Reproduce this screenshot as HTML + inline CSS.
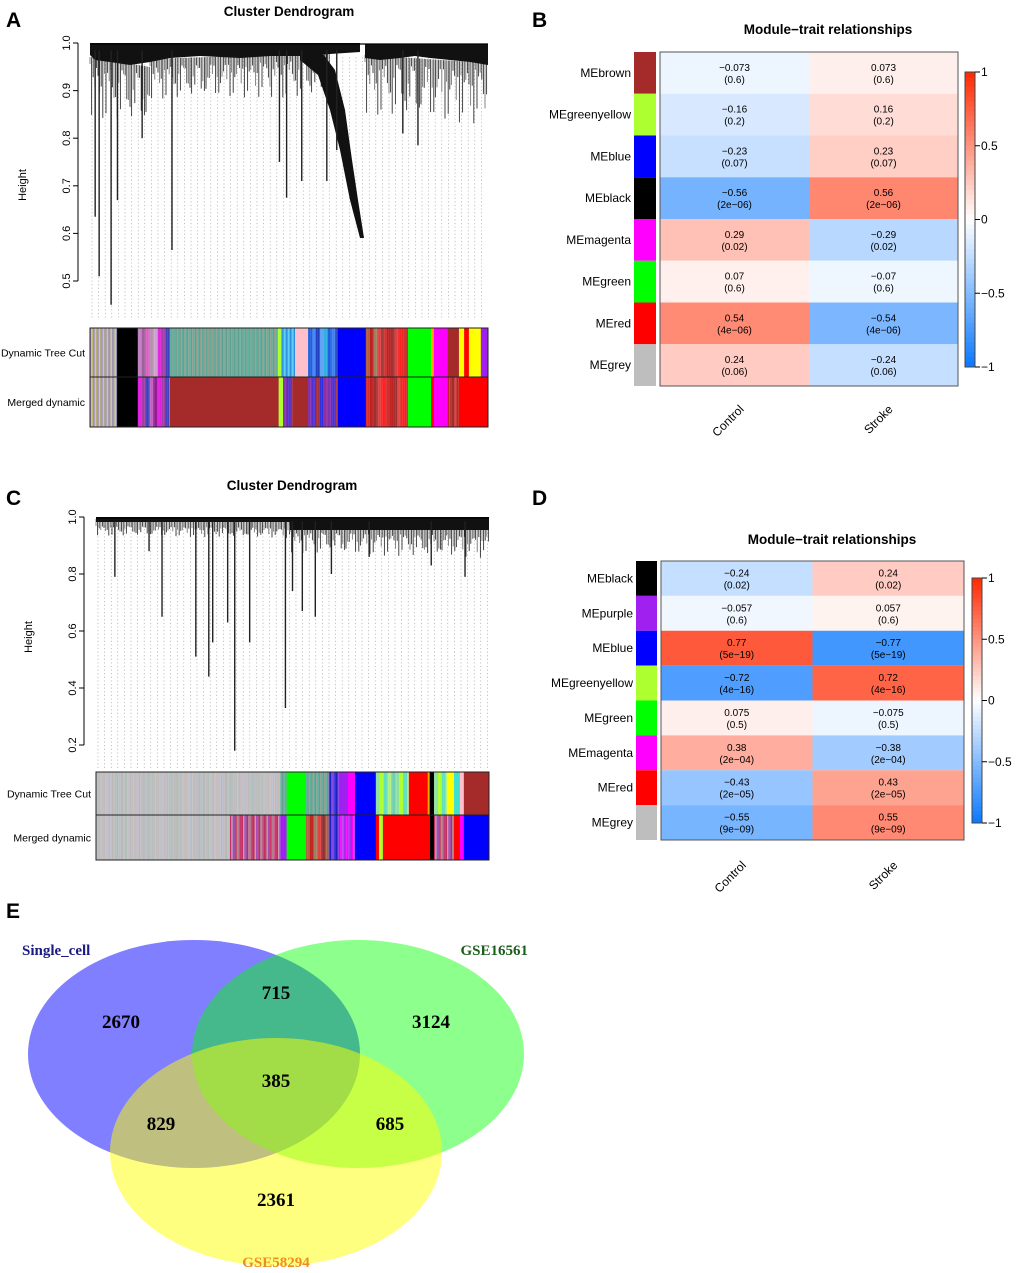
<!DOCTYPE html>
<html><head><meta charset="utf-8"><style>
body{margin:0;background:#fff;}
svg{display:block;font-family:"Liberation Sans",Arial,sans-serif;}
</style></head><body>
<svg id="fig" width="1020" height="1273" viewBox="0 0 1020 1273" xmlns="http://www.w3.org/2000/svg">
<g font-weight="bold" font-size="21">
<text x="6" y="27">A</text>
<text x="532" y="27">B</text>
<text x="6" y="505">C</text>
<text x="532" y="505">D</text>
<text x="6" y="918">E</text>
</g>
<text x="289" y="16" font-size="13.5" font-weight="bold" text-anchor="middle">Cluster Dendrogram</text>
<text x="292" y="490" font-size="13.5" font-weight="bold" text-anchor="middle">Cluster Dendrogram</text>
<text x="828" y="34" font-size="13.5" font-weight="bold" text-anchor="middle">Module−trait relationships</text>
<text x="832" y="544" font-size="13.5" font-weight="bold" text-anchor="middle">Module−trait relationships</text>
<g id="gA"></g><g id="gC"></g><g id="gB"></g><g id="gD"></g>
<g id="venn">
<ellipse cx="194" cy="1054" rx="166" ry="114" fill="rgb(0,0,255)" fill-opacity="0.5"/>
<ellipse cx="358" cy="1054" rx="166" ry="114" fill="rgb(0,255,0)" fill-opacity="0.45"/>
<ellipse cx="276" cy="1152" rx="166" ry="114" fill="rgb(255,255,0)" fill-opacity="0.5"/>
<g font-family="Liberation Serif,serif" font-weight="bold">
<text x="22" y="955" font-size="15" fill="#1a1a80">Single_cell</text>
<text x="528" y="955" font-size="15" fill="#1a5e1a" text-anchor="end">GSE16561</text>
<text x="276" y="1267" font-size="15" fill="#f08c1e" text-anchor="middle">GSE58294</text>
<g font-size="19" text-anchor="middle">
<text x="121" y="1028">2670</text>
<text x="276" y="999">715</text>
<text x="431" y="1028">3124</text>
<text x="276" y="1087">385</text>
<text x="161" y="1130">829</text>
<text x="390" y="1130">685</text>
<text x="276" y="1206">2361</text>
</g></g></g>
</svg>
<script>
// ---- Data ----
const traitsCols = ["Control","Stroke"];
const modulesB = ["MEbrown","MEgreenyellow","MEblue","MEblack","MEmagenta","MEgreen","MEred","MEgrey"];
const swatchB = ["#a52a2a","#adff2f","#0000ff","#000000","#ff00ff","#00ff00","#ff0000","#bebebe"];
const corControlB = [-0.073,-0.16,-0.23,-0.56,0.29,0.07,0.54,0.24];
const pvalB = ["0.6","0.2","0.07","2e−06","0.02","0.6","4e−06","0.06"];
const modulesD = ["MEblack","MEpurple","MEblue","MEgreenyellow","MEgreen","MEmagenta","MEred","MEgrey"];
const swatchD = ["#000000","#a020f0","#0000ff","#adff2f","#00ff00","#ff00ff","#ff0000","#bebebe"];
const corControlD = [-0.24,-0.057,0.77,-0.72,0.075,0.38,-0.43,-0.55];
const pvalD = ["0.02","0.6","5e−19","4e−16","0.5","2e−04","2e−05","9e−09"];
const cbTicks = [1,0.5,0,-0.5,-1];
// dendrogram leaf drops: [x position (leaf index fraction), merge height]
const dropsAx = [0.013,0.023,0.053,0.069,0.131,0.206,0.476,0.494,0.532,0.595,0.62,0.786,0.824];
const dropsAh = [0.635,0.51,0.45,0.67,0.80,0.565,0.75,0.675,0.71,0.71,0.775,0.81,0.785];
const dropsCx = [0.048,0.135,0.168,0.254,0.287,0.297,0.335,0.353,0.391,0.482,0.5,0.525,0.558,0.599,0.695,0.853,0.939];
const dropsCh = [0.79,0.88,0.65,0.51,0.44,0.56,0.63,0.18,0.56,0.33,0.74,0.67,0.65,0.80,0.86,0.83,0.79];
const yTicksA = [0.5,0.6,0.7,0.8,0.9,1.0];
const yTicksC = [0.2,0.4,0.6,0.8,1.0];
const dynA = [[0,.068,"mix:a"],[.068,.12,"#000"],[.12,.171,"mix:p"],[.171,.201,"mix:m"],[.201,.472,"mix:t"],[.472,.48,"#adff2f"],[.48,.515,"mix:c"],[.515,.548,"#ffc0cb"],[.548,.623,"mix:b"],[.623,.693,"#0000ff"],[.693,.736,"mix:r"],[.736,.799,"mix:r2"],[.799,.857,"#00ff00"],[.857,.864,"#ffa500"],[.864,.899,"#ff00ff"],[.899,.927,"#a52a2a"],[.927,.94,"#ffff00"],[.94,.952,"#ff0000"],[.952,.982,"#ffff00"],[.982,1,"#a020f0"]];
const mrgA = [[0,.068,"mix:a"],[.068,.12,"#000"],[.12,.201,"mix:m"],[.201,.474,"#a52a2a"],[.474,.485,"#adff2f"],[.485,.51,"mix:bb"],[.51,.548,"#a52a2a"],[.548,.623,"mix:bb"],[.623,.693,"#0000ff"],[.693,.799,"mix:r2"],[.799,.857,"#00ff00"],[.857,.864,"#ff0000"],[.864,.899,"#ff00ff"],[.899,.927,"mix:rb"],[.927,1,"#ff0000"]];
const dynC = [[0,.469,"mix:g"],[.469,.485,"mix:t"],[.485,.534,"#00ff00"],[.534,.592,"mix:t"],[.592,.618,"mix:bp"],[.618,.641,"#a020f0"],[.641,.659,"#ff00ff"],[.659,.712,"#0000ff"],[.712,.796,"mix:gy"],[.796,.844,"#ff0000"],[.844,.849,"#ffa500"],[.849,.86,"#000"],[.86,.893,"mix:gy"],[.893,.911,"#ffff00"],[.911,.926,"#40e0d0"],[.926,.936,"#ffc0cb"],[.936,1,"#a52a2a"]];
const mrgC = [[0,.341,"mix:g"],[.341,.469,"mix:rp"],[.469,.485,"#a020f0"],[.485,.534,"#00ff00"],[.534,.592,"mix:r"],[.592,.618,"mix:bp"],[.618,.659,"mix:pm"],[.659,.712,"#0000ff"],[.712,.72,"#ff0000"],[.72,.73,"#adff2f"],[.73,.844,"#ff0000"],[.849,.86,"#000"],[.86,.911,"mix:rp"],[.911,.926,"#ff0000"],[.926,.936,"#ff00ff"],[.936,1,"#0000ff"],[.844,.849,"#ff0000"]];
const palettes = {
 a:["#b0a0c0","#c080a0","#9090b0","#d0a0b0","#a0a0a0","#e0d040","#c06080","#a08090"],
 p:["#c080c0","#a060a0","#e060c0","#b090b0","#d0a0d0"],
 m:["#e020e0","#a040a0","#4040c0","#c060c0","#902090"],
 t:["#60b0a0","#50c0c0","#8fa090","#70d0c8","#a06060","#60a090","#90e0e0","#b0d0d0"],
 c:["#40c0f0","#2080e0","#60d0f0","#3090d0"],
 b:["#2060e0","#4080f0","#2040c0","#60a0f0","#30b0e0"],
 r:["#b06040","#c02020","#a08060","#e04040","#903030"],
 r2:["#d03030","#c02020","#a03030","#e04040","#ff2020"],
 bb:["#8030b0","#5030d0","#a03040","#3030e0","#9030a0"],
 rb:["#c02020","#a03030","#d04040"],
 g:["#c0c0c0","#b8b8b8","#c4c0c8","#b0c0b8","#c8b8b8","#bcbcbc","#b8c0d0"],
 rp:["#c03060","#d04080","#b08090","#e02040","#a050b0","#c0a0b0"],
 bp:["#4040e0","#8040e0","#2020c0"],
 pm:["#a020f0","#c040f0","#ff00ff"],
 gy:["#90e0a0","#adff2f","#60e0c0","#b0f080","#70d0b0"]
};
const NS="http://www.w3.org/2000/svg";
function mk(tag,attrs,parent){const e=document.createElementNS(NS,tag);for(const k in attrs)e.setAttribute(k,attrs[k]);parent.appendChild(e);return e;}

function dendro(g, X0, X1, yScale, yTicks, drops, heights, bandEnds, strands, leafBottom, barTop, barMid, barBot, dyn, mrg, axisLabelY){
  const W=X1-X0;
  const ax=mk('line',{x1:X0-12,x2:X0-12,y1:yScale(yTicks[yTicks.length-1]),y2:yScale(yTicks[0]),stroke:'#000'},g);
  
  
  yTicks.forEach(t=>{
    const y=yScale(t);
    mk('line',{x1:X0-17,x2:X0-12,y1:y,y2:y,stroke:'#000'},g);
    const tx=mk('text',{x:X0-20,y:y,'font-size':11,'text-anchor':'middle',transform:`rotate(-90 ${X0-20} ${y})`},g);
    tx.textContent=t.toFixed(1);
    
    
  });
  const yl=mk('text',{x:X0-64,y:axisLabelY,'font-size':11,'text-anchor':'middle',transform:`rotate(-90 ${X0-64} ${axisLabelY})`},g);
  yl.textContent='Height';
  
  
  for(let x=X0+2;x<X1;x+=6.6){
    mk('line',{x1:x,x2:x,y1:yScale(0.97),y2:leafBottom,stroke:'#999','stroke-width':0.6,'stroke-dasharray':'1.2,2.4'},g);
  }
  // branch strands texture below the dense band
  strands.forEach(s=>{
    const [xa,xb,ya,yb,maxL]=s;
    let k=0;
    for(let x=xa;x<xb;x+=1.6){
      const yb0=ya+(yb-ya)*(x-xa)/(xb-xa);
      const L=4+maxL*Math.abs(Math.sin(k*1.73)*Math.cos(k*0.37));
      mk('line',{x1:x,x2:x,y1:yb0-3,y2:yb0+L,stroke:k%3?'#333':'#777','stroke-width':0.9},g);
      k++;
    }
  });
  bandEnds.forEach(b=>{
    const p=mk('polygon',{points:b,fill:'#111'},g);
    
    
  });
  mk('line',{x1:X0,x2:X1,y1:yScale(1)+1,y2:yScale(1)+1,stroke:'#000','stroke-width':1.2},g);
  drops.forEach((f,i)=>{
    const l=mk('line',{x1:X0+f*W,x2:X0+f*W,y1:yScale(0.985),y2:yScale(heights[i]),stroke:'#222','stroke-width':1.4},g);
    
    
  });
  function bar(segs,yt,yb,name,label){
    const bg=mk('g',{},g);
    
    
    segs.forEach(s=>{
      const x0=X0+s[0]*W,x1=X0+s[1]*W;
      if(s[2].startsWith('mix:')){
        const pal=palettes[s[2].slice(4)];let k=0;
        for(let x=x0;x<x1;x+=1.3){mk('rect',{x:x,y:yt,width:Math.min(1.4,x1-x),height:yb-yt,fill:pal[(k*5+Math.floor(k/3))%pal.length]},bg);k++;}
      } else mk('rect',{x:x0,y:yt,width:x1-x0+0.3,height:yb-yt,fill:s[2]},bg);
    });
    mk('rect',{x:X0,y:yt,width:W,height:yb-yt,fill:'none',stroke:'#222','stroke-width':1},bg);
    const t=mk('text',{x:X0-5,y:(yt+yb)/2+4,'font-size':10.5,'text-anchor':'end'},g);
    t.textContent=label;
    
    
  }
  bar(dyn,barTop,barMid,'dynamic-tree-cut-bar','Dynamic Tree Cut');
  bar(mrg,barMid,barBot,'merged-dynamic-bar','Merged dynamic');
}
const yA=h=>43+(1-h)*476;
dendro(document.getElementById('gA'),90,488,yA,yTicksA,dropsAx,dropsAh,
 ["90,43 360,43 360,52 330,54 300,56 270,56 240,58 200,56 170,58 150,62 130,65 110,62 95,60 90,55",
  "300,45 320,50 335,70 345,110 352,160 358,200 364,238 360,238 350,200 340,150 330,110 318,75 300,60",
  "365,44 488,44 488,65 470,62 450,60 430,58 415,56 400,58 380,60 365,58"],
 [[90,150,60,70,55],[150,270,62,58,35],[270,330,56,55,40],[365,488,58,66,55]],
 318,328,377,427,dynA,mrgA,185);
const yC=h=>517+(1-h)*285;
dendro(document.getElementById('gC'),96,489,yC,yTicksC,dropsCx,dropsCh,
 ["96,517 489,517 489,522 96,522",
  "290,518 489,518 489,530 290,530"],
 [[96,290,522,524,10],[290,489,528,532,22]],
 768,772,815,860,dynC,mrgC,637);

function col(v){
  const a=Math.min(1,Math.abs(v));
  const e=v>=0?[255,40,0]:[10,120,255];
  return `rgb(${Math.round(255+(e[0]-255)*a)},${Math.round(255+(e[1]-255)*a)},${Math.round(255+(e[2]-255)*a)})`;
}
function heat(g,X0,X1,Y0,Y1,mods,sw,cor,pv,swX,cbX,cbY0,cbY1,labY){
  const n=mods.length,rh=(Y1-Y0)/n,cw=(X1-X0)/2;
  mods.forEach((m,i)=>{
    const y=Y0+i*rh;
    const s=mk('rect',{x:swX,y:y,width:X0-swX-4,height:rh,fill:sw[i]},g);
    
    
    const lt=mk('text',{x:swX-3,y:y+rh/2+4,'font-size':12,'text-anchor':'end'},g);
    lt.textContent=m;
    
    
    [cor[i],-cor[i]].forEach((v,j)=>{
      const c=mk('rect',{x:X0+j*cw,y:y,width:cw,height:rh,fill:col(v)},g);
      
      
      const t1=mk('text',{x:X0+j*cw+cw/2,y:y+rh/2-2,'font-size':10,'text-anchor':'middle'},g);
      t1.textContent=(v<0?'−':'')+String(Math.abs(v));
      
      
      const t2=mk('text',{x:X0+j*cw+cw/2,y:y+rh/2+10,'font-size':10,'text-anchor':'middle'},g);
      t2.textContent='('+pv[i]+')';
      
      
    });
  });
  mk('rect',{x:X0,y:Y0,width:X1-X0,height:Y1-Y0,fill:'none',stroke:'#555','stroke-width':1},g);
  traitsCols.forEach((t,j)=>{
    const x=X0+j*cw+cw/2;
    const tx=mk('text',{x:x+10,y:labY,'font-size':12,'text-anchor':'end',transform:`rotate(-45 ${x+10} ${labY})`},g);
    tx.textContent=t;
    
    
  });
  const N=60,h=(cbY1-cbY0)/N;
  for(let k=0;k<N;k++){mk('rect',{x:cbX,y:cbY0+k*h,width:10,height:h+0.5,fill:col(1-2*(k+0.5)/N)},g);}
  const cb=mk('rect',{x:cbX,y:cbY0,width:10,height:cbY1-cbY0,fill:'none',stroke:'#444'},g);
  
  
  cbTicks.forEach(t=>{
    const y=cbY0+(1-t)/2*(cbY1-cbY0);
    mk('line',{x1:cbX+10,x2:cbX+15,y1:y,y2:y,stroke:'#000'},g);
    const tx=mk('text',{x:cbX+16,y:y+4,'font-size':12},g);
    tx.textContent=(t<0?'−':'')+Math.abs(t);
    
    
  });
}
heat(document.getElementById('gB'),660,958,52,386,modulesB,swatchB,corControlB,pvalB,634,965,72,367,410);
heat(document.getElementById('gD'),661,964,561,840,modulesD,swatchD,corControlD,pvalD,636,972,578,823,866);
</script>
</body></html>
